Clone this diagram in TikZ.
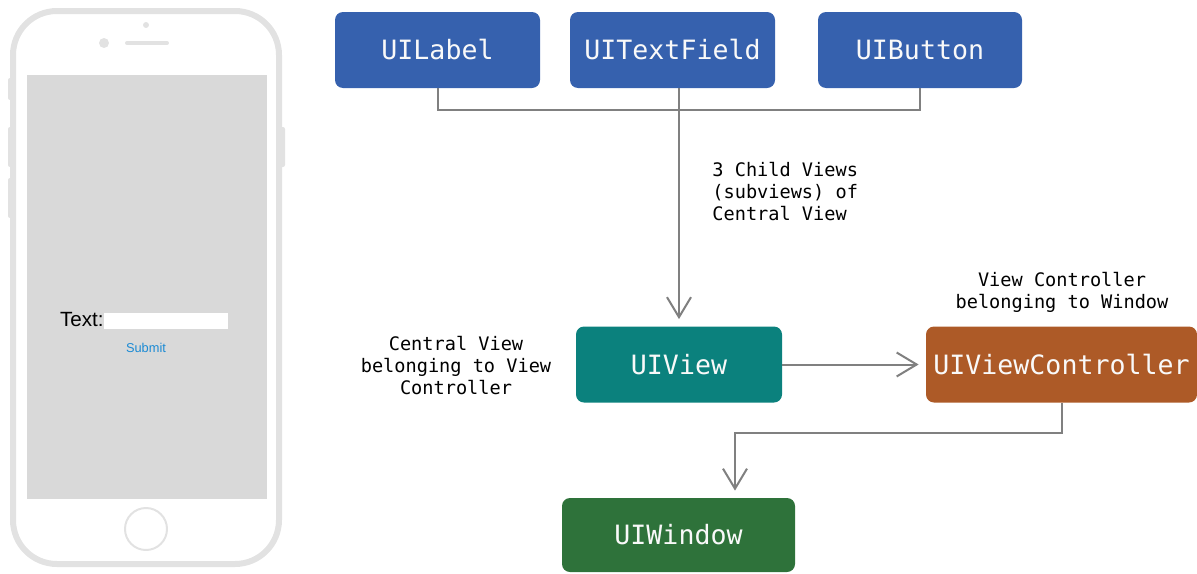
\documentclass[tikz,border=0pt]{standalone}
\usepackage{fontspec}
\setmainfont{Liberation Sans}
\newfontfamily\monofnt{DejaVu Sans Mono}
\usetikzlibrary{arrows.meta}
\definecolor{bxblue}{HTML}{3661AE}
\definecolor{bxteal}{HTML}{0B817D}
\definecolor{bxbrown}{HTML}{AD5A27}
\definecolor{bxgreen}{HTML}{2E723A}
\definecolor{lngray}{HTML}{808080}
\definecolor{phgray}{HTML}{E2E2E2}
\definecolor{scrgray}{HTML}{D9D9D9}
\definecolor{subblue}{HTML}{1A8AD4}
\tikzset{
  box/.style={rounded corners=4pt, minimum height=38pt, text=white!95!gray,
    font=\monofnt\fontsize{13.3}{15}\selectfont, inner sep=0pt},
  conn/.style={draw=lngray, line width=1pt},
  arr/.style={conn, shorten >=3.5pt, -{Straight Barb[length=10pt,width=12pt,line width=1pt]}},
  note/.style={font=\monofnt\fontsize{9.3}{11}\selectfont, inner sep=0pt},
  phone/.style={draw=phgray, line width=3pt},
}
\begin{document}
\begin{tikzpicture}[x=0.5pt,y=-0.5pt]
\useasboundingbox (0,0) rectangle (1197,573);
% phone
\draw[phone, rounded corners=22pt] (13,11) rectangle (279,564);
\fill[scrgray] (27,75) rectangle (267,499);
\fill[phgray, rounded corners=1pt] (8,78) rectangle (13,100);
\fill[phgray, rounded corners=1pt] (8,127) rectangle (13,167);
\fill[phgray, rounded corners=1pt] (8,178) rectangle (13,218);
\fill[phgray, rounded corners=1pt] (279,127) rectangle (285,167);
\fill[phgray] (104,43) circle (5);
\fill[phgray] (146,25) circle (3);
\draw[phgray, line width=2pt, line cap=round] (127,43) -- (167,43);
\draw[phgray, line width=1pt] (146,529) circle (21);
\node[anchor=east, inner sep=0pt, font=\fontsize{10.3}{12}\selectfont] (txtlbl) at (104,320) {Text:};
\fill[white] (104,313) rectangle (228,329);
\node[inner sep=0pt, text=subblue, font=\fontsize{6.4}{8}\selectfont] (submit) at (146,348) {Submit};
% boxes
\node[box, fill=bxblue, minimum width=102.5pt] (lab) at (437.5,50) {UILabel};
\node[box, fill=bxblue, minimum width=102.5pt] (tf) at (672.5,50) {UITextField};
\node[box, fill=bxblue, minimum width=102pt] (btn) at (920,50) {UIButton};
\node[box, fill=bxteal, minimum width=103pt] (view) at (679,364.5) {UIView};
\node[box, fill=bxbrown, minimum width=135.5pt] (vc) at (1061.5,364.5) {UIViewController};
\node[box, fill=bxgreen, minimum width=116.5pt, minimum height=37pt] (win) at (678.5,535) {UIWindow};
% connectors
\coordinate (j) at (679,110);
\draw[conn] (lab.south) |- (j) -| (btn.south);
\draw[arr] (view.north |- tf.south) -- (view.north);
\draw[arr] (view.east) -- (vc.west);
\coordinate (bend) at (735,433);
\draw[arr] (vc.south) |- (bend) -- (bend |- win.north);
% notes
\node[note, align=left, anchor=north west] (n1) at (712,162) {3 Child Views\\(subviews) of\\Central View};
\node[note, align=center] (n2) at (456,366) {Central View\\belonging to View\\Controller};
\node[note, align=center] (n3) at (1062,292) {View Controller\\belonging to Window};
\end{tikzpicture}
\end{document}
